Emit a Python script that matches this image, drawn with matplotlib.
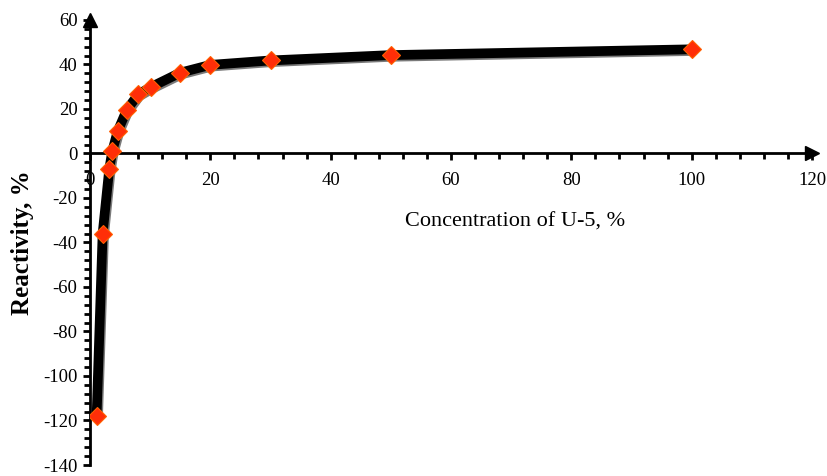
import numpy as np
import matplotlib.pyplot as plt
import matplotlib.patheffects as pe

# U-5 concentration (%) vs reactivity (%)
conc = [1.1, 2.1, 3.2, 3.7, 4.6, 6.1, 8.0, 10.1, 15.0, 20.0, 30.0, 50.0, 100.0]
react = [-118, -36, -7, 1, 10, 19.5, 26.5, 29.8, 36.3, 39.8, 41.8, 44.2, 46.8]

plt.rcParams['font.family'] = ['Liberation Serif', 'DejaVu Serif']
plt.rcParams['axes.unicode_minus'] = False

fig = plt.figure(figsize=(8.28, 4.76), dpi=100)
ax = fig.add_axes([0.1087, 0.0231, 0.872, 0.935])

shadow = [pe.SimpleLineShadow(offset=(1.0, -1.2), alpha=0.6, shadow_color='#222222'),
          pe.Normal()]
ax.plot(conc, react, color='black', lw=7, solid_joinstyle='round',
        solid_capstyle='round', zorder=3, path_effects=shadow)
ax.plot(conc, react, linestyle='none', marker='D', markersize=9.5,
        markerfacecolor='#ff2e08', markeredgecolor='#ff6000', markeredgewidth=0.8,
        zorder=4)

ax.set_xlim(0, 120)
ax.set_ylim(-140, 60)

ax.spines['left'].set_position(('data', 0))
ax.spines['bottom'].set_position(('data', 0))
ax.spines['top'].set_visible(False)
ax.spines['right'].set_visible(False)
for s in ('left', 'bottom'):
    ax.spines[s].set_linewidth(2.0)

ax.set_xticks(np.arange(0, 121, 20))
ax.set_xticks(np.arange(0, 121, 4), minor=True)
ax.set_yticks(np.arange(-140, 61, 20))
ax.set_yticks(np.arange(-140, 61, 4), minor=True)
ax.tick_params(axis='both', which='major', direction='out', length=5, width=2,
               labelsize=13.5, pad=4)
ax.tick_params(axis='both', which='minor', direction='out', length=4, width=2)
ax.tick_params(axis='x', which='major', pad=8)

# arrow heads at the axis ends
ax.plot(1, 0, '>', color='black', markersize=10, transform=ax.get_yaxis_transform(),
        clip_on=False)
ax.plot(0, 1, '^', color='black', markersize=10, transform=ax.get_xaxis_transform(),
        clip_on=False)

ax.text(70.6, -31, 'Concentration of U-5, %', fontsize=16, ha='center', va='center')
fig.text(0.027, 0.49, 'Reactivity, %', fontsize=18, fontweight='bold',
         rotation=90, ha='center', va='center')

plt.savefig('out.png', dpi=100)
